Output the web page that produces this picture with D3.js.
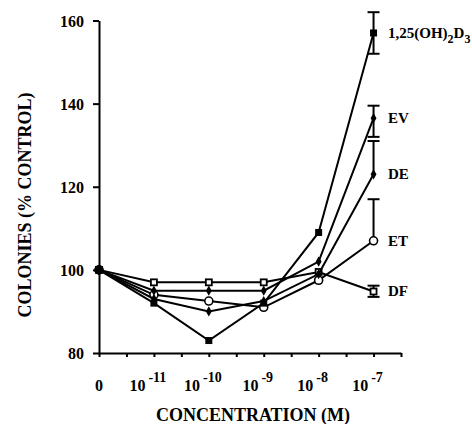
<!DOCTYPE html>
<html>
<head>
<meta charset="utf-8">
<script src="https://cdn.jsdelivr.net/npm/d3@7"></script>
<style>
  body { margin: 0; background: #fff; }
  svg text { font-family: "Liberation Serif", "DejaVu Serif", "Times New Roman", serif !important; font-weight: bold; fill: #000; }
</style>
</head>
<body>
<svg id="chart" width="472" height="424"></svg>
<script>
// concentration steps, 0 then 10^-11 .. 10^-7
var concPos = [0, 1, 2, 3, 4, 5];
var concExp = [null, "-11", "-10", "-9", "-8", "-7"];

var seriesNames = ["1,25(OH)2D3", "EV", "DE", "ET", "DF"];
var vitD3 = [100, 92, 83, 92, 109, 157];
var valEV = [100, 95, 95, 95, 102, 136.5];
var valDE = [100, 93, 90, 92.5, 99, 123];
var valET = [100, 94, 92.5, 91, 97.5, 107];
var valDF = [100, 97, 97, 97, 99.5, 94.8];

// error bars at 10^-7 : [low, high]
var errD3 = [152, 162];
var errEV = [132, 139.5];
var errDE = [123, 131];
var errET = [107, 117];
var errDF = [93.5, 96.2];

var svg = d3.select("#chart");
var serif = "'Liberation Serif', 'DejaVu Serif', serif";

var x = d3.scaleLinear().domain([0, 5.5]).range([99, 401]);
var y = d3.scaleLinear().domain([80, 160]).range([353, 20.5]);

// y axis
var yAxis = svg.append("g").attr("transform", "translate(99,0)");
yAxis.call(d3.axisLeft(y).tickValues(d3.range(80, 161, 5)).tickSize(3).tickSizeOuter(0).tickFormat(""));
yAxis.call(d3.axisLeft(y).tickValues([80, 100, 120, 140, 160]).tickSize(6).tickPadding(9).tickSizeOuter(0));
yAxis.attr("font-family", serif);
yAxis.selectAll("path, line").attr("stroke", "#000").attr("stroke-width", 2);
yAxis.selectAll("text").style("font-size", "16px").attr("dy", "0.36em");

// x axis
var xAxis = svg.append("g").attr("transform", "translate(0,353)");
xAxis.call(d3.axisBottom(x).tickValues(d3.range(0, 5.51, 0.5)).tickSize(4).tickSizeOuter(0).tickFormat(""));
xAxis.selectAll("path, line").attr("stroke", "#000").attr("stroke-width", 2);

var xl = svg.append("g").attr("font-family", serif).selectAll("text").data(concPos).enter().append("text")
    .attr("x", function(d) { return x(d) - (d === 0 ? 0 : 6); })
    .attr("y", 391)
    .attr("text-anchor", "middle")
    .style("font-size", "16px");
xl.each(function(d, i) {
    var t = d3.select(this);
    if (concExp[i] === null) { t.text("0"); return; }
    t.append("tspan").text("10");
    t.append("tspan").attr("dx", 3).attr("dy", -9).style("font-size", "14px").text(concExp[i]);
});

svg.append("text").attr("x", 253).attr("y", 421).attr("text-anchor", "middle")
    .attr("font-family", serif).style("font-size", "18px").text("CONCENTRATION (M)");
svg.append("text").attr("transform", "translate(31,205) rotate(-90)").attr("text-anchor", "middle")
    .attr("font-family", serif).style("font-size", "18px").text("COLONIES (% CONTROL)");

var line = d3.line().x(function(d, i) { return x(concPos[i]); }).y(function(d) { return y(d); });

var allSeries = [
    {vals: valDF, err: errDF, mark: "openSquare"},
    {vals: valET, err: errET, mark: "openCircle"},
    {vals: valDE, err: errDE, mark: "diamond"},
    {vals: valEV, err: errEV, mark: "diamond"},
    {vals: vitD3, err: errD3, mark: "square"}
];

allSeries.forEach(function(s) {
    svg.append("path").datum(s.vals).attr("d", line)
        .attr("fill", "none").attr("stroke", "#000").attr("stroke-width", 2);

    // error bar at the last point
    var ex = x(concPos[5]);
    var eb = svg.append("g").attr("stroke", "#000").attr("stroke-width", 2);
    eb.append("line").attr("x1", ex).attr("x2", ex).attr("y1", y(s.err[0])).attr("y2", y(s.err[1]));
    s.err.forEach(function(e) {
        if (e === s.vals[5]) return;
        eb.append("line").attr("x1", ex - 6).attr("x2", ex + 6).attr("y1", y(e)).attr("y2", y(e));
    });

    var pts = svg.append("g").selectAll("g").data(s.vals).enter().append("g")
        .attr("transform", function(d, i) { return "translate(" + x(concPos[i]) + "," + y(d) + ")"; });
    if (s.mark === "square") {
        pts.append("rect").attr("x", -3.5).attr("y", -3.5).attr("width", 7).attr("height", 7).attr("fill", "#000");
    } else if (s.mark === "openSquare") {
        pts.append("rect").attr("x", -3).attr("y", -3).attr("width", 6).attr("height", 6)
            .attr("fill", "#fff").attr("stroke", "#000").attr("stroke-width", 1.8);
    } else if (s.mark === "openCircle") {
        pts.append("circle").attr("r", 4).attr("fill", "#fff").attr("stroke", "#000").attr("stroke-width", 1.6);
    } else {
        pts.append("path").attr("d", d3.symbol(d3.symbolDiamond, 30)).attr("fill", "#000");
    }
});

// first point drawn as a solid dot
svg.append("circle").attr("cx", x(0)).attr("cy", y(100)).attr("r", 4.5).attr("fill", "#000");

// series labels
var labelY = [157, 136.5, 123, 107, 94.8];
var labels = svg.append("g").attr("font-family", serif).selectAll("text").data(seriesNames).enter().append("text")
    .attr("x", 388)
    .attr("y", function(d, i) { return y(labelY[i]) + 5; })
    .style("font-size", "15px");
labels.each(function(d) {
    var t = d3.select(this);
    if (d === "1,25(OH)2D3") {
        t.append("tspan").text("1,25(OH)");
        t.append("tspan").attr("dy", 5).style("font-size", "12px").text("2");
        t.append("tspan").attr("dy", -5).text("D");
        t.append("tspan").attr("dy", 5).style("font-size", "12px").text("3");
    } else {
        t.text(d);
    }
});
</script>
</body>
</html>
